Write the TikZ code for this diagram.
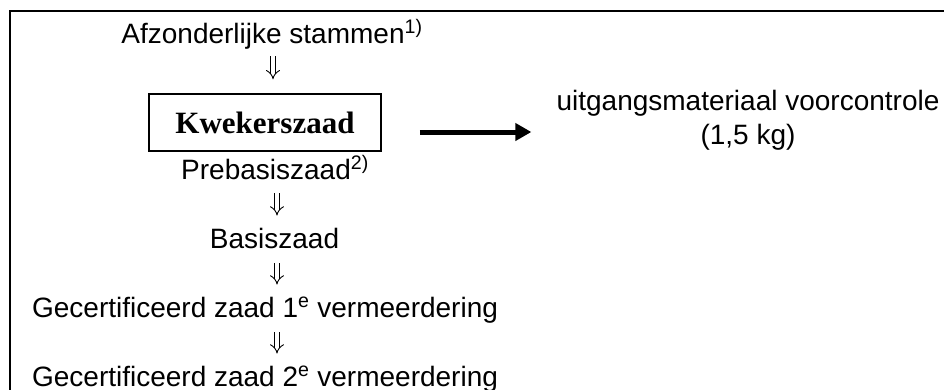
\documentclass[tikz,border=0pt]{standalone}
\usepackage{fontspec}
\setmainfont{Liberation Sans}
\newfontfamily\kwekfont{Liberation Serif}
\usetikzlibrary{arrows.meta}

\begin{document}
\begin{tikzpicture}[x=1pt,y=-1pt,
        stage/.style={inner sep=0pt,anchor=base,font=\fontsize{28}{34}\selectfont},
        down/.style={double,double distance=4pt,line width=0.9pt,-{Implies[scale=1.2]}},
        fat/.style={line width=5pt,-{Triangle[length=16pt,width=17pt]}}]
        \useasboundingbox (0,0) rectangle (944,389);

        \draw[line width=2pt] (10,400) |- (960,11);

        \node[stage]                 (afz)   at (272,43)  {Afzonderlijke stammen\textsuperscript{1)}};
        \node[draw,line width=1.5pt,minimum width=232pt,minimum height=57pt,inner sep=0pt,
              font=\kwekfont\bfseries\fontsize{31}{36}\selectfont]
                                     (kwek)  at (265,122.5) {Kwekerszaad};
        \node[stage]                 (preb)  at (275,179) {Prebasiszaad\textsuperscript{2)}};
        \node[stage]                 (basis) at (274.5,248) {Basiszaad};
        \node[stage]                 (gec1)  at (265,317) {Gecertificeerd zaad 1\textsuperscript{e} vermeerdering};
        \node[stage]                 (gec2)  at (265,386) {Gecertificeerd zaad 2\textsuperscript{e} vermeerdering};
        \node[stage,align=center,anchor=north] (uitg) at (748,90.5) {uitgangsmateriaal voorcontrole\\(1,5 kg)};

        \draw[down,shorten <=7pt,shorten >=14pt]   ([xshift=1pt]afz.south)   -- ([xshift=1pt]afz.south |- kwek.north);
        \draw[down,shorten <=14pt,shorten >=12pt]  ([xshift=2pt]preb.south)  -- ([xshift=2pt]preb.south |- basis.north);
        \draw[down,shorten <=15pt,shorten >=12pt]  ([xshift=2.5pt]basis.south) -- ([xshift=2.5pt]basis.south |- gec1.north);
        \draw[down,shorten <=9pt,shorten >=12pt]   ([xshift=12pt]gec1.south)  -- ([xshift=12pt]gec1.south |- gec2.north);

        \coordinate (out) at ([xshift=38pt,yshift=-9.5pt]kwek.east);
        \draw[fat,shorten >=25pt] (out) -- (out -| uitg.west);
    \end{tikzpicture}
\end{document}
